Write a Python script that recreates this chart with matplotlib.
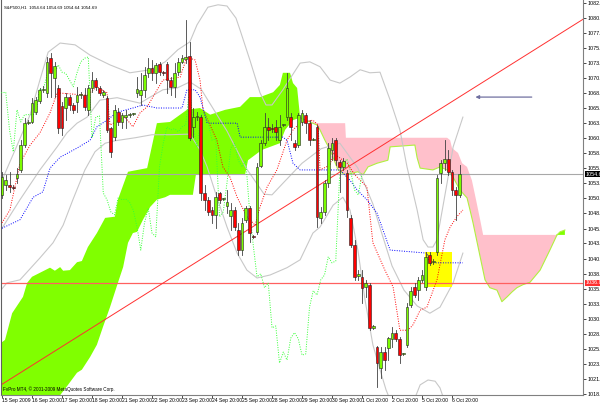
import matplotlib
matplotlib.use("Agg")
import matplotlib.pyplot as plt
import numpy as np

title_text = "S&P500,H1  1054.64 1054.69 1054.64 1054.69"
footer_text = "FvPro MT4, \u00a9 2001-2009 MetaQuotes Software Corp."

opens = [1051.3, 1052.9, 1052.9, 1052.6, 1054.1, 1055.4, 1059.5, 1063.2, 1063.3, 1064.9,
         1066.8, 1068.6, 1068.1, 1073.8, 1070.5, 1068.9, 1065.9, 1065.6, 1067.4, 1066.1,
         1066.6, 1067.7, 1067.7, 1065.3, 1068.9, 1070.2, 1068.9, 1067.7, 1067.3, 1062.3,
         1060.8, 1064.9, 1063.3, 1064.1, 1064.4, 1064.6, 1068.1, 1067.7, 1068.6, 1071.4,
         1072.2, 1071.4, 1072.9, 1071.4, 1072.9, 1070.2, 1069.1, 1071.5, 1073.2, 1073.7,
         1074.2, 1062.5, 1064.1, 1064.1, 1051.6, 1050.5, 1048.8, 1048.0, 1051.6, 1050.6,
         1049.5, 1047.8, 1048.8, 1045.5, 1042.2, 1047.2, 1049.1, 1044.5, 1045.2, 1056.1,
         1059.8, 1062.5, 1062.3, 1062.5, 1060.3, 1062.8, 1064.1, 1064.1, 1059.8, 1059.5,
         1063.3, 1064.5, 1063.1, 1060.4, 1062.5, 1047.5, 1048.5, 1053.3, 1058.7, 1060.3,
         1056.7, 1055.9, 1054.9, 1047.5, 1043.0, 1037.9, 1037.8, 1036.1, 1036.5, 1029.4,
         1026.2, 1022.8, 1025.4, 1026.1, 1027.6, 1028.6, 1027.6, 1025.1, 1026.6, 1033.2,
         1036.1, 1035.6, 1037.3, 1036.1, 1041.4, 1040.2, 1041.9, 1054.9, 1056.5, 1057.2,
         1055.1, 1052.1, 1051.3]
highs = [1055.1, 1054.6, 1055.1, 1053.0, 1055.7, 1060.3, 1064.0, 1063.6, 1067.3, 1067.4,
         1068.9, 1069.2, 1074.0, 1074.7, 1073.2, 1069.4, 1066.6, 1068.1, 1067.7, 1066.4,
         1069.1, 1068.2, 1068.9, 1069.4, 1071.5, 1070.5, 1069.2, 1068.6, 1067.6, 1062.5,
         1066.1, 1065.6, 1064.8, 1065.3, 1064.8, 1064.8, 1070.7, 1071.4, 1072.4, 1073.8,
         1073.5, 1073.0, 1073.2, 1071.7, 1073.2, 1070.7, 1073.0, 1073.8, 1074.3, 1080.1,
         1076.5, 1065.6, 1064.9, 1064.5, 1052.9, 1050.9, 1049.3, 1051.8, 1051.8, 1050.8,
         1052.1, 1050.0, 1049.3, 1046.7, 1047.5, 1049.5, 1049.5, 1044.7, 1056.5, 1060.3,
         1064.8, 1064.0, 1062.9, 1063.6, 1064.5, 1063.0, 1071.4, 1064.8, 1060.3, 1064.8,
         1065.3, 1064.8, 1063.6, 1060.7, 1062.8, 1049.3, 1053.7, 1059.8, 1060.7, 1060.7,
         1057.0, 1057.4, 1055.4, 1048.0, 1043.9, 1038.9, 1038.9, 1037.3, 1036.8, 1029.9,
         1026.4, 1026.2, 1026.2, 1027.9, 1029.5, 1029.0, 1027.9, 1025.3, 1033.5, 1036.1,
         1036.8, 1037.8, 1038.9, 1041.9, 1041.9, 1040.7, 1054.6, 1057.0, 1060.3, 1058.7,
         1055.4, 1052.6, 1056.2]
lows = [1050.8, 1052.1, 1051.8, 1052.2, 1053.3, 1055.1, 1059.2, 1062.9, 1063.1, 1064.6,
        1066.4, 1068.2, 1067.4, 1067.4, 1067.4, 1061.5, 1061.2, 1063.6, 1065.3, 1064.8,
        1064.9, 1067.3, 1065.3, 1064.5, 1068.2, 1068.6, 1067.7, 1067.4, 1061.7, 1057.5,
        1060.3, 1062.8, 1062.3, 1062.3, 1064.1, 1064.4, 1067.4, 1066.1, 1067.4, 1070.7,
        1070.2, 1069.7, 1071.0, 1071.0, 1068.1, 1067.7, 1067.4, 1071.0, 1073.0, 1073.0,
        1060.3, 1060.8, 1063.6, 1050.5, 1048.8, 1048.0, 1046.7, 1045.8, 1050.0, 1050.4,
        1048.3, 1045.5, 1045.5, 1041.4, 1041.4, 1046.8, 1043.5, 1044.2, 1044.9, 1055.9,
        1059.5, 1060.3, 1061.6, 1060.3, 1059.5, 1062.6, 1063.6, 1060.3, 1058.7, 1059.2,
        1062.8, 1061.5, 1059.5, 1060.3, 1046.0, 1046.7, 1048.0, 1052.6, 1057.0, 1056.2,
        1051.8, 1055.4, 1047.7, 1042.7, 1037.3, 1037.3, 1033.5, 1034.5, 1029.0, 1029.2,
        1019.7, 1021.1, 1022.5, 1024.1, 1026.2, 1027.2, 1023.6, 1024.9, 1026.2, 1032.8,
        1034.5, 1034.0, 1036.9, 1035.6, 1039.7, 1039.9, 1041.4, 1053.3, 1055.4, 1054.6,
        1051.3, 1047.2, 1050.9]
closes = [1054.2, 1053.7, 1052.6, 1052.5, 1054.7, 1059.5, 1063.1, 1063.3, 1066.4, 1066.9,
          1068.6, 1068.7, 1073.2, 1071.4, 1072.5, 1062.3, 1062.3, 1067.4, 1066.1, 1065.3,
          1067.7, 1067.8, 1065.8, 1068.9, 1070.2, 1069.1, 1068.1, 1068.2, 1062.0, 1058.4,
          1065.3, 1063.3, 1064.5, 1064.5, 1064.5, 1064.6, 1068.7, 1068.6, 1071.0, 1072.2,
          1071.4, 1072.7, 1071.5, 1071.3, 1070.2, 1069.1, 1071.4, 1073.2, 1073.8, 1074.0,
          1060.7, 1064.1, 1064.3, 1051.6, 1050.5, 1048.5, 1048.0, 1050.9, 1050.5, 1050.6,
          1050.1, 1048.8, 1046.0, 1042.2, 1046.7, 1049.1, 1045.0, 1044.4, 1055.9, 1059.8,
          1062.5, 1062.0, 1062.2, 1061.7, 1062.5, 1062.8, 1068.9, 1062.5, 1059.2, 1064.5,
          1064.8, 1063.1, 1060.3, 1060.5, 1047.7, 1048.5, 1053.3, 1059.0, 1059.8, 1057.0,
          1055.9, 1056.9, 1048.8, 1043.0, 1037.8, 1038.3, 1036.0, 1036.8, 1029.4, 1029.7,
          1023.6, 1025.4, 1024.1, 1027.7, 1028.6, 1027.6, 1024.9, 1025.1, 1032.8, 1035.5,
          1034.8, 1037.3, 1038.1, 1041.1, 1040.1, 1040.4, 1054.1, 1056.5, 1057.2, 1055.1,
          1052.1, 1051.3, 1054.69]

# Ichimoku cloud edges (bar index, price)
green_top_x = [-1, 0.8, 2.7, 5.6, 6.7, 8.0, 12.8, 14.1, 15.5, 16.3, 18.1, 20.0, 21.3, 22.9, 25.3,
               27.5, 30.1, 30.9, 33.6, 38.7, 41.3, 44.8, 49.3, 52.8, 55.5, 59.5, 63.5, 66.1,
               68.8, 72.3, 74.1, 74.9, 76.8, 77.6, 78.7, 79.5]
green_top = [1026.6, 1027.4, 1031.8, 1034.5, 1036.8, 1037.8, 1039.3, 1038.8, 1039.4, 1038.8,
             1038.9, 1040.2, 1040.4, 1042.7, 1045.0, 1047.5, 1047.7, 1050.5, 1055.1, 1055.7,
             1063.1, 1063.3, 1065.3, 1065.6, 1064.5, 1065.3, 1065.8, 1067.4, 1067.4, 1068.2,
             1069.4, 1071.4, 1071.4, 1069.7, 1068.9, 1064.0]
green_bot_x = [-1, 15.5, 17.6, 20.0, 21.3, 23.5, 25.3, 26.9, 28.8, 30.9, 32.3, 33.6, 34.9, 36.0,
               37.6, 39.5, 41.3, 43.5, 44.8, 50.9, 51.7, 64.8, 65.6, 69.3, 74.1, 75.5, 77.6, 79.5]
green_bot = [1017.5, 1018.3, 1020.0, 1022.0, 1022.5, 1024.6, 1026.6, 1029.5, 1032.8, 1036.8,
             1039.4, 1043.4, 1045.0, 1045.2, 1047.2, 1049.3, 1050.5, 1050.9, 1051.3, 1051.3,
             1054.6, 1054.6, 1057.0, 1058.7, 1059.8, 1062.0, 1063.6, 1064.0]
pink_top_x = [79.5, 84.0, 91.5, 91.7, 118.7, 119.5, 120.0, 121.6, 122.7, 124.0, 125.3, 126.4,
              127.5, 128.3, 148.0]
pink_top = [1064.0, 1063.1, 1063.1, 1060.7, 1060.7, 1060.3, 1059.0, 1058.2, 1056.5, 1055.9,
            1053.7, 1050.5, 1047.2, 1044.7, 1044.7]
pink_bot_x = [79.5, 84.0, 84.8, 86.1, 87.5, 89.6, 91.5, 94.9, 96.3, 97.6, 100.0, 102.9, 103.5,
              110.1, 110.7, 111.5, 114.9, 116.8, 118.7, 120.3, 122.1, 124.0, 124.8, 125.6,
              127.5, 128.8, 130.1, 132.0, 133.3, 134.7, 136.0, 137.3, 138.9, 140.8, 143.5,
              146.1, 148.0]
pink_bot = [1064.0, 1062.8, 1062.0, 1060.3, 1058.7, 1055.4, 1054.6, 1055.1, 1054.6, 1055.9,
            1056.5, 1057.0, 1059.2, 1059.5, 1057.4, 1055.7, 1055.4, 1055.9, 1055.4, 1054.2,
            1052.1, 1050.8, 1048.8, 1046.7, 1041.1, 1037.3, 1036.0, 1035.6, 1033.7, 1034.5,
            1035.3, 1036.0, 1036.5, 1036.9, 1038.9, 1042.2, 1044.7]
tail_x = [148.0, 148.8, 150.1]
tail_top = [1044.7, 1045.2, 1045.5]
tail_bot = [1044.7, 1044.7, 1044.7]

tenkan_x = [0, 2.1, 4.8, 7.5, 10.1, 12.8, 14.7, 22.7, 25.3, 28.0, 28.8, 32.8, 34.9, 36.8, 38.7,
            42.9, 47.5, 49.3, 51.5, 52.8, 53.6, 57.3, 58.9, 60.8, 62.7, 65.3, 67.5, 68.8, 70.7,
            73.3, 76.0, 77.6, 79.5, 82.9, 84.3, 84.8, 87.5, 88.3, 92.0, 94.1, 97.3, 98.9,
            102.1, 104.3, 106.1, 108.3, 109.6, 111.5, 113.3, 116.0, 118.1, 119.5, 121.3, 122.9]
tenkan = [1046.7, 1048.8, 1056.5, 1059.5, 1061.5, 1064.8, 1068.1, 1067.7, 1069.1, 1068.1,
          1062.8, 1064.1, 1062.5, 1064.8, 1065.8, 1070.2, 1070.7, 1074.0, 1073.5, 1070.2,
          1065.3, 1060.3, 1055.9, 1054.2, 1050.9, 1047.7, 1046.3, 1049.3, 1052.6, 1055.4,
          1060.3, 1062.0, 1063.1, 1063.6, 1062.8, 1055.4, 1056.2, 1058.2, 1056.5, 1054.6,
          1052.6, 1043.4, 1038.9, 1036.1, 1029.0, 1029.0, 1029.9, 1032.3, 1032.8, 1037.3,
          1043.9, 1046.0, 1047.7, 1048.8]
kijun_x = [0, 4.8, 8.3, 10.9, 12.8, 15.5, 20.0, 23.5, 25.3, 28.0, 30.7, 34.9, 37.6, 41.3, 48.0,
           49.3, 51.5, 52.8, 54.7, 62.7, 63.5, 74.9, 76.0, 77.6, 79.5, 90.1, 92.8, 94.7, 97.3,
           100.0, 101.6, 103.5, 113.3, 114.1, 122.9]
kijun = [1045.8, 1047.2, 1050.9, 1051.8, 1055.7, 1057.5, 1059.0, 1060.3, 1062.5, 1063.6,
         1064.9, 1065.6, 1066.1, 1065.6, 1065.6, 1068.6, 1068.6, 1067.4, 1063.1, 1063.1,
         1060.8, 1060.8, 1060.3, 1056.5, 1055.4, 1055.4, 1053.7, 1052.1, 1050.5, 1048.3,
         1045.5, 1042.2, 1041.7, 1040.1, 1040.1]
chikou_shift = 26

# Bollinger bands (upper / middle / lower)
bb_up_x = [-0.3, 3.5, 7.5, 10.1, 12.3, 15.5, 19.5, 23.5, 28.8, 34.1, 39.5, 43.5, 46.9, 50.1,
           52.0, 54.9, 57.6, 60.0, 62.4, 63.5, 66.1, 68.8, 70.4, 72.0, 74.9, 79.5, 82.1, 84.8,
           87.5, 90.1, 92.8, 95.5, 98.1, 100.8, 103.5, 106.1, 108.0, 110.7, 112.3, 113.6, 114.9,
           116.0, 116.8, 118.7, 120.3, 122.9]
bb_up = [1053.3, 1058.7, 1064.5, 1070.2, 1074.8, 1076.3, 1076.0, 1074.3, 1072.7, 1071.4,
         1071.9, 1073.2, 1075.2, 1076.5, 1079.3, 1082.2, 1082.6, 1082.4, 1080.4, 1078.4, 1073.5,
         1068.1, 1066.1, 1066.1, 1068.6, 1073.0, 1073.2, 1072.4, 1070.2, 1069.7, 1070.7,
         1071.9, 1071.4, 1071.5, 1066.9, 1062.0, 1055.9, 1048.8, 1043.9, 1042.7, 1042.7,
         1043.9, 1046.7, 1053.3, 1059.2, 1064.1]
bb_mid_x = [-0.3, 4.8, 10.1, 14.7, 17.3, 20.0, 22.7, 26.1, 30.7, 33.3, 36.8, 39.5, 42.9, 46.7,
            50.1, 53.1, 54.9, 60.0, 65.1, 69.9, 72.0, 74.9, 80.0, 85.1, 90.1, 94.9, 98.9, 101.1,
            104.0, 107.2, 110.7, 114.1, 116.8, 120.3, 122.9]
bb_mid = [1045.5, 1050.5, 1055.4, 1059.2, 1061.5, 1063.1, 1064.1, 1066.9, 1067.3, 1066.9,
          1066.4, 1067.4, 1068.6, 1068.9, 1069.9, 1068.7, 1066.9, 1061.8, 1055.7, 1051.4,
          1051.3, 1053.2, 1056.5, 1058.9, 1059.8, 1055.7, 1049.8, 1045.3, 1039.6, 1035.6,
          1033.0, 1031.8, 1032.8, 1036.8, 1041.7]
bb_lo_x = [-0.3, 1.3, 4.8, 10.1, 13.6, 16.3, 18.9, 22.1, 24.8, 27.5, 30.1, 35.5, 40.0, 44.8,
           50.1, 52.8, 54.7, 57.3, 60.0, 62.7, 65.3, 68.0, 71.5, 76.0, 79.5, 82.9, 84.8, 88.3,
           90.9, 92.8, 94.9, 96.8, 98.9, 100.8, 102.4, 103.5, 109.9, 111.5, 113.6, 115.5,
           116.8, 117.9]
bb_lo = [1035.6, 1036.8, 1037.3, 1040.9, 1043.4, 1046.3, 1050.5, 1055.4, 1058.4, 1059.8,
         1060.2, 1060.7, 1061.2, 1061.2, 1061.3, 1058.7, 1055.9, 1050.9, 1046.0, 1041.7,
         1038.9, 1037.6, 1038.1, 1039.3, 1040.6, 1045.0, 1046.0, 1049.6, 1050.9, 1048.8,
         1042.2, 1034.0, 1026.6, 1022.5, 1019.2, 1017.5, 1017.5, 1020.0, 1020.8, 1020.6,
         1019.5, 1017.5]

x_tick_pos = list(range(0, 121, 8))
x_tick_labels = ["15 Sep 2009", "16 Sep 20:00", "17 Sep 20:00", "18 Sep 20:00", "21 Sep 20:00",
                 "22 Sep 20:00", "23 Sep 20:00", "24 Sep 20:00", "25 Sep 20:00", "28 Sep 20:00",
                 "29 Sep 20:00", "30 Sep 20:00", "1 Oct 20:00", "2 Oct 20:00", "5 Oct 20:00",
                 "6 Oct 20:00"]
y_ticks = [1082.90, 1080.45, 1077.95, 1075.50, 1073.00, 1070.55, 1068.05, 1065.55, 1063.10,
           1060.60, 1058.15, 1055.65, 1053.20, 1050.70, 1048.25, 1045.75, 1043.30, 1040.80,
           1038.30, 1035.85, 1033.35, 1030.90, 1028.40, 1025.90, 1023.45, 1021.00, 1018.50]

bid_price = 1054.69
hline_price = 1036.80
hline_label = "1036.80"
trend_p1 = (0, 1020.1)
trend_p2 = (150, 1078.3)
arrow_y = 1067.4
arrow_from = 142.0
arrow_to = 125.5
rect_x = (112.8, 120.0)
rect_y = (1036.1, 1041.9)

plt.rcParams["font.family"] = ["Liberation Sans Narrow", "Liberation Sans", "DejaVu Sans"]

fig = plt.figure(figsize=(6.0, 4.04), dpi=100)
ax = fig.add_axes([1 / 600, 9 / 404, 582 / 600, 395 / 404])
ax.set_xlim(-0.27, 154.93)
ax.set_ylim(1018.33, 1083.39)

GREEN = "#80ff00"
PINK = "#ffc0cb"
ax.fill(list(green_top_x) + list(green_bot_x)[::-1], list(green_top) + list(green_bot)[::-1],
        color=GREEN, lw=0, zorder=1)
ax.fill(list(pink_top_x) + list(pink_bot_x)[::-1], list(pink_top) + list(pink_bot)[::-1],
        color=PINK, lw=0, zorder=1)
ax.fill(list(tail_x) + list(tail_x)[::-1], list(tail_top) + list(tail_bot)[::-1],
        color=GREEN, lw=0, zorder=1)
ax.plot(pink_bot_x, pink_bot, color="#b0f040", lw=0.8, zorder=1.5)
ax.plot(tail_x, tail_top, color="#b0f040", lw=0.8, zorder=1.5)

for bx, by in [(bb_up_x, bb_up), (bb_mid_x, bb_mid), (bb_lo_x, bb_lo)]:
    ax.plot(bx, by, color="#c8c8c8", lw=0.8, zorder=2)

ax.fill([rect_x[0], rect_x[1], rect_x[1], rect_x[0]], [rect_y[0], rect_y[0], rect_y[1], rect_y[1]],
        color="#ffff00", lw=0, zorder=2)

ax.plot(tenkan_x, tenkan, color="#ff0000", lw=0.7, ls=(0, (1, 1.5)), zorder=3)
ax.plot(kijun_x, kijun, color="#0000ff", lw=0.7, ls=(0, (1, 1.5)), zorder=3)
n = len(closes)
ax.plot(np.arange(n) - chikou_shift, closes, color="#33ff33", lw=0.7, ls=(0, (1, 1.5)), zorder=3)

ax.axhline(bid_price, color="#a8a8a8", lw=0.8, zorder=2.5)
ax.axhline(hline_price, color="#ff6060", lw=0.9, zorder=2.5)
ax.axline(trend_p1, trend_p2, color="#ff3030", lw=0.7, zorder=2.5)
ax.annotate("", xy=(arrow_to, arrow_y), xytext=(arrow_from, arrow_y),
            arrowprops=dict(arrowstyle="-|>", color="#7070a0", lw=0.9, mutation_scale=5), zorder=3)

for i in range(n):
    o, h, l, c = opens[i], highs[i], lows[i], closes[i]
    ax.plot([i, i], [l, h], color="#404040", lw=0.6, zorder=4)
    bull = c >= o
    lo = min(o, c)
    ht = max(abs(c - o), 0.15)
    ax.bar(i, ht, bottom=lo, width=0.7, color="#7cfc00" if bull else "#ff0000",
           edgecolor="#202020", lw=0.4, zorder=5)

ax.spines["top"].set_visible(False)
ax.spines["left"].set_color("#606060")
ax.spines["right"].set_color("#808080")
ax.spines["bottom"].set_color("#808080")
ax.yaxis.tick_right()
ax.set_yticks(y_ticks)
ax.set_yticklabels(["%.2f" % v for v in y_ticks])
ax.tick_params(axis="y", direction="out", length=2, width=0.5, pad=1, labelsize=3.9,
               colors="#000000")
ax.set_xticks(x_tick_pos)
ax.set_xticklabels(x_tick_labels)
ax.tick_params(axis="x", direction="out", length=2, width=0.5, pad=0.5, labelsize=3.6)
for lab in ax.get_xticklabels():
    lab.set_ha("left")

ax.text(1.004, bid_price, "%.2f" % bid_price, transform=ax.get_yaxis_transform(), fontsize=3.9,
        color="white", va="center", ha="left",
        bbox=dict(boxstyle="square,pad=0.1", fc="black", ec="none"), zorder=10)
ax.text(1.004, hline_price, hline_label, transform=ax.get_yaxis_transform(), fontsize=3.9,
        color="white", va="center", ha="left",
        bbox=dict(boxstyle="square,pad=0.1", fc="#ff3030", ec="none"), zorder=10)

fig.text(4 / 600, 1 - 8 / 404, title_text, fontsize=3.2, va="center", ha="left")
fig.text(3 / 600, 1 - 389 / 404, footer_text, fontsize=3.35, va="center", ha="left")

fig.savefig("out.png", dpi=100)
